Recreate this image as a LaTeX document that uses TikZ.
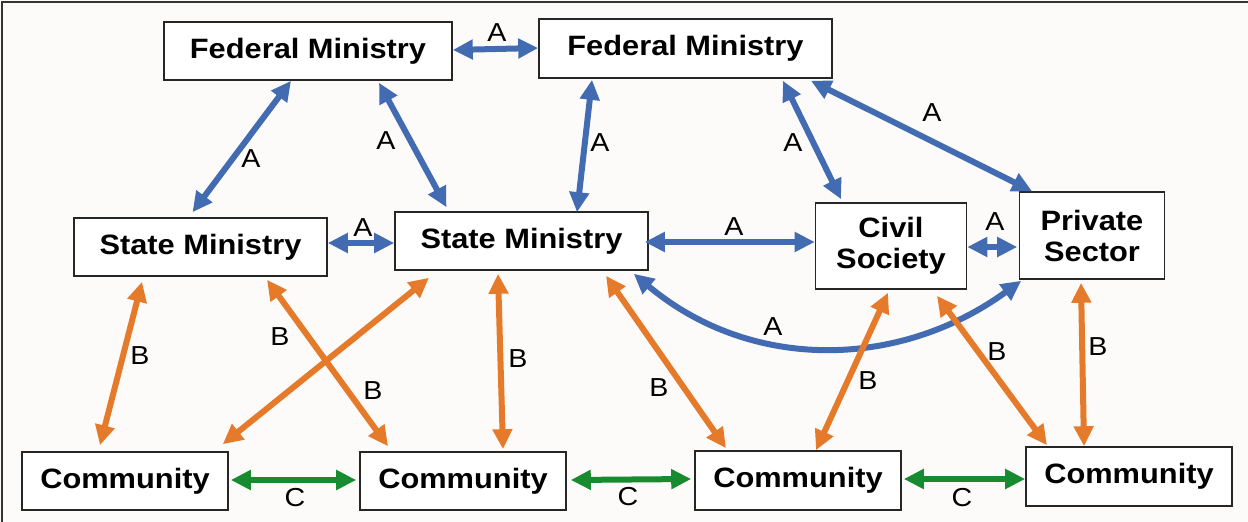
\documentclass[tikz,border=0pt]{standalone}
\usepackage{fontspec}
\setmainfont{Liberation Sans}
\usetikzlibrary{arrows.meta}
\definecolor{ablue}{RGB}{66,107,178}
\definecolor{borange}{RGB}{229,122,43}
\definecolor{cgreen}{RGB}{24,138,48}
\definecolor{bgpaper}{RGB}{252,251,250}
\newcommand{\wid}[1]{\scalebox{1.1}[1]{#1}}
\begin{document}
\begin{tikzpicture}[x=1pt,y=-1pt,
  box/.style={draw=black!85,line width=1.6pt,fill=white,inner sep=0pt,align=center,
    font=\fontsize{28}{31}\selectfont\bfseries},
  link/.style={line width=6pt,{Triangle[length=20pt,width=19pt]}-{Triangle[length=20pt,width=19pt]}},
  lbl/.style={inner sep=0pt,font=\fontsize{26}{26}\selectfont},
  la/.style={link,draw=ablue},
  lb/.style={link,draw=borange},
  lc/.style={link,draw=cgreen}]
\fill[bgpaper] (0,0) rectangle (1248,522);
\useasboundingbox (0,0) rectangle (1248,522);
\draw[black!80,line width=1.5pt] (2,522) -- (2,2) -- (1248,2);

% nodes
\node[box,minimum width=288pt,minimum height=58pt] (fedA) at (308,51) {\wid{Federal Ministry}};
\node[box,minimum width=293pt,minimum height=59pt] (fedB) at (685.5,48.5) {\wid{Federal Ministry}};
\node[box,minimum width=253pt,minimum height=58pt] (stA) at (200.5,247) {\wid{State Ministry}};
\node[box,minimum width=253pt,minimum height=58pt] (stB) at (521.5,241) {\wid{State Ministry}};
\node[box,minimum width=151pt,minimum height=86pt] (civ) at (891,246) {\wid{Civil}\\\wid{Society}};
\node[box,minimum width=145pt,minimum height=87pt] (prv) at (1092,235.5) {\wid{Private}\\\wid{Sector}};
\node[box,minimum width=206pt,minimum height=58pt] (cmA) at (125,481) {\wid{Community}};
\node[box,minimum width=206pt,minimum height=58pt] (cmB) at (463,481) {\wid{Community}};
\node[box,minimum width=206pt,minimum height=59pt] (cmC) at (798,480.5) {\wid{Community}};
\node[box,minimum width=206pt,minimum height=59pt] (cmD) at (1129,476.5) {\wid{Community}};

% blue A links
\draw[la] ([yshift=1pt]fedA.east) -- ([yshift=0.5pt]fedB.west);
\draw[la] ([xshift=-17pt]fedA.south) -- ([xshift=-8pt,yshift=5pt]stA.north);
\draw[la] ([xshift=71pt,yshift=-2pt]fedA.south) -- ([xshift=-75pt,yshift=4pt]stB.north);
\draw[la] ([yshift=4pt]stA.east) -- ([yshift=-2pt]stB.west);
\draw[la] ([xshift=-93.5pt,yshift=-1pt]fedB.south) -- ([xshift=55.5pt,yshift=-1pt]stB.north);
\draw[la] ([xshift=97.5pt,yshift=-2pt]fedB.south) -- ([xshift=-50pt,yshift=3pt]civ.north);
\draw[la] ([xshift=125.5pt,yshift=-2pt]fedB.south) -- ([xshift=-60pt]prv.north);
\draw[la] ([xshift=-4pt,yshift=-1pt]stB.east) -- ([yshift=4pt]civ.west);
\draw[la] ([yshift=-1pt]civ.east) -- ([xshift=-1.5pt,yshift=-11.5pt]prv.west);
\draw[la] ([xshift=-15pt,yshift=-3pt]stB.south east) to[out=-40,in=216] ([xshift=2.5pt,yshift=-1pt]prv.south west);

% orange B links
\draw[lb] ([xshift=-58.5pt,yshift=-5pt]stA.south) -- ([xshift=-25pt,yshift=6pt]cmA.north);
\draw[lb] ([xshift=66.5pt,yshift=-3pt]stA.south) -- ([xshift=-75pt,yshift=5pt]cmB.north);
\draw[lb] ([xshift=-92.5pt,yshift=-7pt]stB.south) -- ([xshift=-6pt,yshift=7pt]cmA.north east);
\draw[lb] ([xshift=-23.5pt,yshift=-3pt]stB.south) -- ([xshift=40pt,yshift=2pt]cmB.north);
\draw[lb] ([xshift=84.5pt,yshift=-5pt]stB.south) -- ([xshift=-72pt,yshift=2pt]cmC.north);
\draw[lb] ([xshift=-3pt,yshift=-3pt]civ.south) -- ([xshift=18pt]cmC.north);
\draw[lb] ([xshift=46pt,yshift=-6pt]civ.south) -- ([xshift=-82pt,yshift=1pt]cmD.north);
\draw[lb] ([xshift=-11pt,yshift=-3pt]prv.south) -- ([xshift=-45pt]cmD.north);

% green C links
\draw[lc] ([xshift=2pt,yshift=1pt]cmA.east) -- ([xshift=-3pt,yshift=1pt]cmB.west);
\draw[lc] ([xshift=4pt,yshift=1pt]cmB.east) -- ([xshift=-3pt,yshift=1.5pt]cmC.west);
\draw[lc] ([xshift=2pt,yshift=1.5pt]cmC.east) -- ([yshift=-2.5pt]cmD.west);

% labels
\node[lbl] (la1) at (497,33) {\wid{A}};
\node[lbl] (la2) at (251,159) {\wid{A}};
\node[lbl] (la3) at (386,141) {\wid{A}};
\node[lbl] (la4) at (363,228) {\wid{A}};
\node[lbl] (la5) at (600,143) {\wid{A}};
\node[lbl] (la6) at (793,143) {\wid{A}};
\node[lbl] (la7) at (932,113) {\wid{A}};
\node[lbl] (la8) at (734,227) {\wid{A}};
\node[lbl] (la9) at (995,222) {\wid{A}};
\node[lbl] (la10) at (773,327) {\wid{A}};
\node[lbl] (lb1) at (140,356) {\wid{B}};
\node[lbl] (lb2) at (280,337) {\wid{B}};
\node[lbl] (lb3) at (373,391) {\wid{B}};
\node[lbl] (lb4) at (518,359) {\wid{B}};
\node[lbl] (lb5) at (659,388) {\wid{B}};
\node[lbl] (lb6) at (868,381) {\wid{B}};
\node[lbl] (lb7) at (997,352) {\wid{B}};
\node[lbl] (lb8) at (1098,347) {\wid{B}};
\node[lbl] (lc1) at (295,498) {\wid{C}};
\node[lbl] (lc2) at (628,497) {\wid{C}};
\node[lbl] (lc3) at (962,498) {\wid{C}};
\end{tikzpicture}
\end{document}
